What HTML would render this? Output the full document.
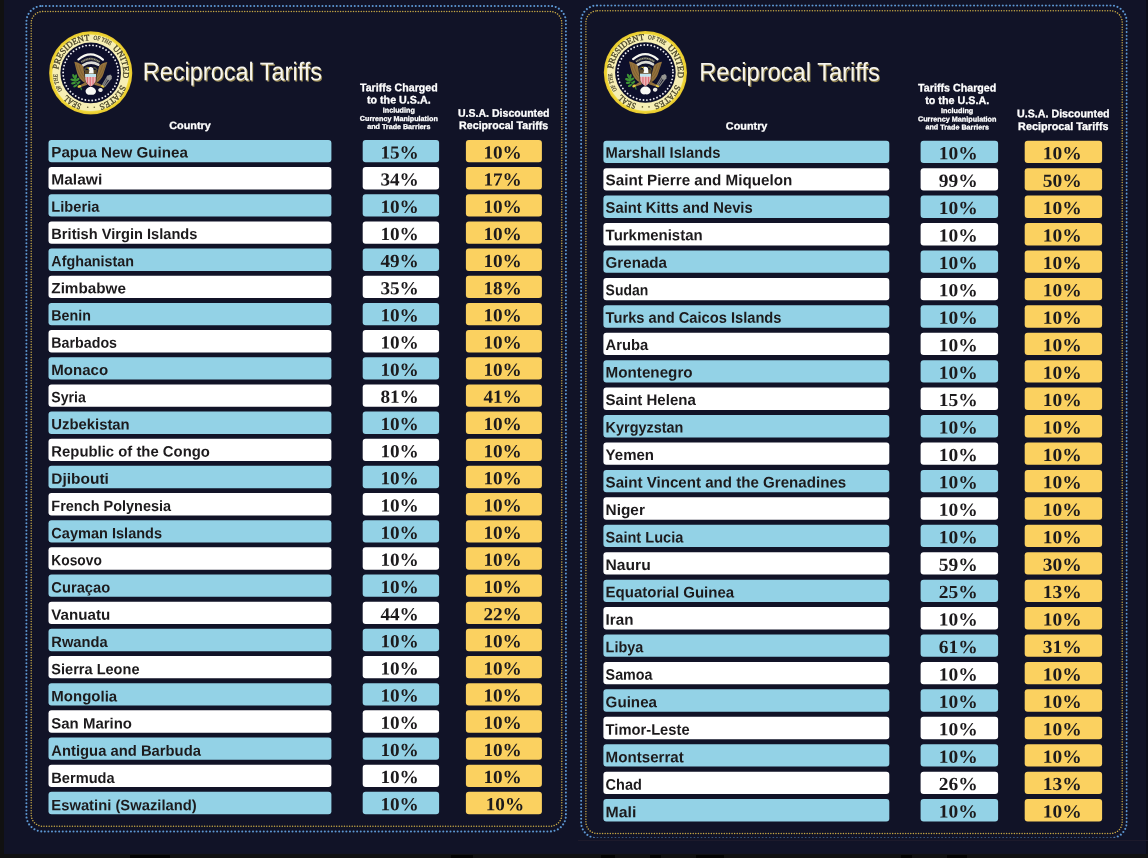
<!DOCTYPE html>
<html lang="en"><head><meta charset="utf-8"><title>Reciprocal Tariffs</title>
<style>
html,body{margin:0;padding:0;}
body{width:1148px;height:858px;background:#111327;position:relative;overflow:hidden;}
.abs{position:absolute;}
.r{position:absolute;border-radius:3px;}
.t{position:absolute;white-space:nowrap;line-height:1;transform-origin:0 50%;display:block;}
.sb{font-family:"Liberation Sans",sans-serif;font-weight:bold;}
.sr{font-family:"Liberation Sans",sans-serif;font-weight:normal;}
.nb{font-family:"Liberation Serif",serif;font-weight:bold;}
</style></head><body><div id="wrap" style="position:absolute;left:0;top:0;width:1148px;height:858px;filter:blur(0.45px)">

<div class="abs" style="left:0;top:0;width:3.7px;height:858px;background:#111111"></div>
<div class="abs" style="left:1145.7px;top:0;width:2.3px;height:858px;background:#0c0d19"></div>
<div class="abs" style="left:0;top:853.9px;width:1148px;height:4.1px;background:#111112"></div>
<div class="abs" style="left:130px;top:854.5px;width:40px;height:3.5px;background:#030303"></div>
<div class="abs" style="left:451px;top:854.5px;width:22px;height:3.5px;background:#030303"></div>
<div class="abs" style="left:601px;top:854.5px;width:14px;height:3.5px;background:#030303"></div>
<div class="abs" style="left:650px;top:854.5px;width:11px;height:3.5px;background:#030303"></div>
<div class="abs" style="left:696px;top:854.5px;width:28px;height:3.5px;background:#030303"></div>
<div class="abs" style="left:901px;top:854.5px;width:11px;height:3.5px;background:#030303"></div>
<div class="abs" style="left:947px;top:854.5px;width:20px;height:3.5px;background:#030303"></div>
<div class="abs" style="left:578px;top:840.2px;width:570px;height:0.7px;background:#1d1a2b"></div>
<svg class="abs" style="left:0;top:0" width="1148" height="858" viewBox="0 0 1148 858"><rect x="48.5" y="139.95" width="282.9" height="22.35" rx="3" fill="#93d2e6"/><rect x="362.7" y="139.95" width="76.4" height="22.35" rx="3" fill="#93d2e6"/><rect x="465.9" y="139.95" width="76.0" height="22.35" rx="3" fill="#fbd160"/><rect x="48.5" y="167.11" width="282.9" height="22.35" rx="3" fill="#ffffff"/><rect x="362.7" y="167.11" width="76.4" height="22.35" rx="3" fill="#ffffff"/><rect x="465.9" y="167.11" width="76.0" height="22.35" rx="3" fill="#fbd160"/><rect x="48.5" y="194.27" width="282.9" height="22.35" rx="3" fill="#93d2e6"/><rect x="362.7" y="194.27" width="76.4" height="22.35" rx="3" fill="#93d2e6"/><rect x="465.9" y="194.27" width="76.0" height="22.35" rx="3" fill="#fbd160"/><rect x="48.5" y="221.43" width="282.9" height="22.35" rx="3" fill="#ffffff"/><rect x="362.7" y="221.43" width="76.4" height="22.35" rx="3" fill="#ffffff"/><rect x="465.9" y="221.43" width="76.0" height="22.35" rx="3" fill="#fbd160"/><rect x="48.5" y="248.59" width="282.9" height="22.35" rx="3" fill="#93d2e6"/><rect x="362.7" y="248.59" width="76.4" height="22.35" rx="3" fill="#93d2e6"/><rect x="465.9" y="248.59" width="76.0" height="22.35" rx="3" fill="#fbd160"/><rect x="48.5" y="275.75" width="282.9" height="22.35" rx="3" fill="#ffffff"/><rect x="362.7" y="275.75" width="76.4" height="22.35" rx="3" fill="#ffffff"/><rect x="465.9" y="275.75" width="76.0" height="22.35" rx="3" fill="#fbd160"/><rect x="48.5" y="302.91" width="282.9" height="22.35" rx="3" fill="#93d2e6"/><rect x="362.7" y="302.91" width="76.4" height="22.35" rx="3" fill="#93d2e6"/><rect x="465.9" y="302.91" width="76.0" height="22.35" rx="3" fill="#fbd160"/><rect x="48.5" y="330.07" width="282.9" height="22.35" rx="3" fill="#ffffff"/><rect x="362.7" y="330.07" width="76.4" height="22.35" rx="3" fill="#ffffff"/><rect x="465.9" y="330.07" width="76.0" height="22.35" rx="3" fill="#fbd160"/><rect x="48.5" y="357.23" width="282.9" height="22.35" rx="3" fill="#93d2e6"/><rect x="362.7" y="357.23" width="76.4" height="22.35" rx="3" fill="#93d2e6"/><rect x="465.9" y="357.23" width="76.0" height="22.35" rx="3" fill="#fbd160"/><rect x="48.5" y="384.39" width="282.9" height="22.35" rx="3" fill="#ffffff"/><rect x="362.7" y="384.39" width="76.4" height="22.35" rx="3" fill="#ffffff"/><rect x="465.9" y="384.39" width="76.0" height="22.35" rx="3" fill="#fbd160"/><rect x="48.5" y="411.55" width="282.9" height="22.35" rx="3" fill="#93d2e6"/><rect x="362.7" y="411.55" width="76.4" height="22.35" rx="3" fill="#93d2e6"/><rect x="465.9" y="411.55" width="76.0" height="22.35" rx="3" fill="#fbd160"/><rect x="48.5" y="438.71" width="282.9" height="22.35" rx="3" fill="#ffffff"/><rect x="362.7" y="438.71" width="76.4" height="22.35" rx="3" fill="#ffffff"/><rect x="465.9" y="438.71" width="76.0" height="22.35" rx="3" fill="#fbd160"/><rect x="48.5" y="465.87" width="282.9" height="22.35" rx="3" fill="#93d2e6"/><rect x="362.7" y="465.87" width="76.4" height="22.35" rx="3" fill="#93d2e6"/><rect x="465.9" y="465.87" width="76.0" height="22.35" rx="3" fill="#fbd160"/><rect x="48.5" y="493.03" width="282.9" height="22.35" rx="3" fill="#ffffff"/><rect x="362.7" y="493.03" width="76.4" height="22.35" rx="3" fill="#ffffff"/><rect x="465.9" y="493.03" width="76.0" height="22.35" rx="3" fill="#fbd160"/><rect x="48.5" y="520.19" width="282.9" height="22.35" rx="3" fill="#93d2e6"/><rect x="362.7" y="520.19" width="76.4" height="22.35" rx="3" fill="#93d2e6"/><rect x="465.9" y="520.19" width="76.0" height="22.35" rx="3" fill="#fbd160"/><rect x="48.5" y="547.35" width="282.9" height="22.35" rx="3" fill="#ffffff"/><rect x="362.7" y="547.35" width="76.4" height="22.35" rx="3" fill="#ffffff"/><rect x="465.9" y="547.35" width="76.0" height="22.35" rx="3" fill="#fbd160"/><rect x="48.5" y="574.51" width="282.9" height="22.35" rx="3" fill="#93d2e6"/><rect x="362.7" y="574.51" width="76.4" height="22.35" rx="3" fill="#93d2e6"/><rect x="465.9" y="574.51" width="76.0" height="22.35" rx="3" fill="#fbd160"/><rect x="48.5" y="601.67" width="282.9" height="22.35" rx="3" fill="#ffffff"/><rect x="362.7" y="601.67" width="76.4" height="22.35" rx="3" fill="#ffffff"/><rect x="465.9" y="601.67" width="76.0" height="22.35" rx="3" fill="#fbd160"/><rect x="48.5" y="628.83" width="282.9" height="22.35" rx="3" fill="#93d2e6"/><rect x="362.7" y="628.83" width="76.4" height="22.35" rx="3" fill="#93d2e6"/><rect x="465.9" y="628.83" width="76.0" height="22.35" rx="3" fill="#fbd160"/><rect x="48.5" y="655.99" width="282.9" height="22.35" rx="3" fill="#ffffff"/><rect x="362.7" y="655.99" width="76.4" height="22.35" rx="3" fill="#ffffff"/><rect x="465.9" y="655.99" width="76.0" height="22.35" rx="3" fill="#fbd160"/><rect x="48.5" y="683.15" width="282.9" height="22.35" rx="3" fill="#93d2e6"/><rect x="362.7" y="683.15" width="76.4" height="22.35" rx="3" fill="#93d2e6"/><rect x="465.9" y="683.15" width="76.0" height="22.35" rx="3" fill="#fbd160"/><rect x="48.5" y="710.31" width="282.9" height="22.35" rx="3" fill="#ffffff"/><rect x="362.7" y="710.31" width="76.4" height="22.35" rx="3" fill="#ffffff"/><rect x="465.9" y="710.31" width="76.0" height="22.35" rx="3" fill="#fbd160"/><rect x="48.5" y="737.47" width="282.9" height="22.35" rx="3" fill="#93d2e6"/><rect x="362.7" y="737.47" width="76.4" height="22.35" rx="3" fill="#93d2e6"/><rect x="465.9" y="737.47" width="76.0" height="22.35" rx="3" fill="#fbd160"/><rect x="48.5" y="764.63" width="282.9" height="22.35" rx="3" fill="#ffffff"/><rect x="362.7" y="764.63" width="76.4" height="22.35" rx="3" fill="#ffffff"/><rect x="465.9" y="764.63" width="76.0" height="22.35" rx="3" fill="#fbd160"/><rect x="48.5" y="791.79" width="282.9" height="22.35" rx="3" fill="#93d2e6"/><rect x="362.7" y="791.79" width="76.4" height="22.35" rx="3" fill="#93d2e6"/><rect x="465.9" y="791.79" width="76.0" height="22.35" rx="3" fill="#fbd160"/><rect x="603.4" y="140.75" width="285.9" height="22.35" rx="3" fill="#93d2e6"/><rect x="920.6" y="140.75" width="77.5" height="22.35" rx="3" fill="#93d2e6"/><rect x="1024.7" y="140.75" width="77.4" height="22.35" rx="3" fill="#fbd160"/><rect x="603.4" y="168.18" width="285.9" height="22.35" rx="3" fill="#ffffff"/><rect x="920.6" y="168.18" width="77.5" height="22.35" rx="3" fill="#ffffff"/><rect x="1024.7" y="168.18" width="77.4" height="22.35" rx="3" fill="#fbd160"/><rect x="603.4" y="195.61" width="285.9" height="22.35" rx="3" fill="#93d2e6"/><rect x="920.6" y="195.61" width="77.5" height="22.35" rx="3" fill="#93d2e6"/><rect x="1024.7" y="195.61" width="77.4" height="22.35" rx="3" fill="#fbd160"/><rect x="603.4" y="223.04" width="285.9" height="22.35" rx="3" fill="#ffffff"/><rect x="920.6" y="223.04" width="77.5" height="22.35" rx="3" fill="#ffffff"/><rect x="1024.7" y="223.04" width="77.4" height="22.35" rx="3" fill="#fbd160"/><rect x="603.4" y="250.47" width="285.9" height="22.35" rx="3" fill="#93d2e6"/><rect x="920.6" y="250.47" width="77.5" height="22.35" rx="3" fill="#93d2e6"/><rect x="1024.7" y="250.47" width="77.4" height="22.35" rx="3" fill="#fbd160"/><rect x="603.4" y="277.90" width="285.9" height="22.35" rx="3" fill="#ffffff"/><rect x="920.6" y="277.90" width="77.5" height="22.35" rx="3" fill="#ffffff"/><rect x="1024.7" y="277.90" width="77.4" height="22.35" rx="3" fill="#fbd160"/><rect x="603.4" y="305.33" width="285.9" height="22.35" rx="3" fill="#93d2e6"/><rect x="920.6" y="305.33" width="77.5" height="22.35" rx="3" fill="#93d2e6"/><rect x="1024.7" y="305.33" width="77.4" height="22.35" rx="3" fill="#fbd160"/><rect x="603.4" y="332.76" width="285.9" height="22.35" rx="3" fill="#ffffff"/><rect x="920.6" y="332.76" width="77.5" height="22.35" rx="3" fill="#ffffff"/><rect x="1024.7" y="332.76" width="77.4" height="22.35" rx="3" fill="#fbd160"/><rect x="603.4" y="360.19" width="285.9" height="22.35" rx="3" fill="#93d2e6"/><rect x="920.6" y="360.19" width="77.5" height="22.35" rx="3" fill="#93d2e6"/><rect x="1024.7" y="360.19" width="77.4" height="22.35" rx="3" fill="#fbd160"/><rect x="603.4" y="387.62" width="285.9" height="22.35" rx="3" fill="#ffffff"/><rect x="920.6" y="387.62" width="77.5" height="22.35" rx="3" fill="#ffffff"/><rect x="1024.7" y="387.62" width="77.4" height="22.35" rx="3" fill="#fbd160"/><rect x="603.4" y="415.05" width="285.9" height="22.35" rx="3" fill="#93d2e6"/><rect x="920.6" y="415.05" width="77.5" height="22.35" rx="3" fill="#93d2e6"/><rect x="1024.7" y="415.05" width="77.4" height="22.35" rx="3" fill="#fbd160"/><rect x="603.4" y="442.48" width="285.9" height="22.35" rx="3" fill="#ffffff"/><rect x="920.6" y="442.48" width="77.5" height="22.35" rx="3" fill="#ffffff"/><rect x="1024.7" y="442.48" width="77.4" height="22.35" rx="3" fill="#fbd160"/><rect x="603.4" y="469.91" width="285.9" height="22.35" rx="3" fill="#93d2e6"/><rect x="920.6" y="469.91" width="77.5" height="22.35" rx="3" fill="#93d2e6"/><rect x="1024.7" y="469.91" width="77.4" height="22.35" rx="3" fill="#fbd160"/><rect x="603.4" y="497.34" width="285.9" height="22.35" rx="3" fill="#ffffff"/><rect x="920.6" y="497.34" width="77.5" height="22.35" rx="3" fill="#ffffff"/><rect x="1024.7" y="497.34" width="77.4" height="22.35" rx="3" fill="#fbd160"/><rect x="603.4" y="524.77" width="285.9" height="22.35" rx="3" fill="#93d2e6"/><rect x="920.6" y="524.77" width="77.5" height="22.35" rx="3" fill="#93d2e6"/><rect x="1024.7" y="524.77" width="77.4" height="22.35" rx="3" fill="#fbd160"/><rect x="603.4" y="552.20" width="285.9" height="22.35" rx="3" fill="#ffffff"/><rect x="920.6" y="552.20" width="77.5" height="22.35" rx="3" fill="#ffffff"/><rect x="1024.7" y="552.20" width="77.4" height="22.35" rx="3" fill="#fbd160"/><rect x="603.4" y="579.63" width="285.9" height="22.35" rx="3" fill="#93d2e6"/><rect x="920.6" y="579.63" width="77.5" height="22.35" rx="3" fill="#93d2e6"/><rect x="1024.7" y="579.63" width="77.4" height="22.35" rx="3" fill="#fbd160"/><rect x="603.4" y="607.06" width="285.9" height="22.35" rx="3" fill="#ffffff"/><rect x="920.6" y="607.06" width="77.5" height="22.35" rx="3" fill="#ffffff"/><rect x="1024.7" y="607.06" width="77.4" height="22.35" rx="3" fill="#fbd160"/><rect x="603.4" y="634.49" width="285.9" height="22.35" rx="3" fill="#93d2e6"/><rect x="920.6" y="634.49" width="77.5" height="22.35" rx="3" fill="#93d2e6"/><rect x="1024.7" y="634.49" width="77.4" height="22.35" rx="3" fill="#fbd160"/><rect x="603.4" y="661.92" width="285.9" height="22.35" rx="3" fill="#ffffff"/><rect x="920.6" y="661.92" width="77.5" height="22.35" rx="3" fill="#ffffff"/><rect x="1024.7" y="661.92" width="77.4" height="22.35" rx="3" fill="#fbd160"/><rect x="603.4" y="689.35" width="285.9" height="22.35" rx="3" fill="#93d2e6"/><rect x="920.6" y="689.35" width="77.5" height="22.35" rx="3" fill="#93d2e6"/><rect x="1024.7" y="689.35" width="77.4" height="22.35" rx="3" fill="#fbd160"/><rect x="603.4" y="716.78" width="285.9" height="22.35" rx="3" fill="#ffffff"/><rect x="920.6" y="716.78" width="77.5" height="22.35" rx="3" fill="#ffffff"/><rect x="1024.7" y="716.78" width="77.4" height="22.35" rx="3" fill="#fbd160"/><rect x="603.4" y="744.21" width="285.9" height="22.35" rx="3" fill="#93d2e6"/><rect x="920.6" y="744.21" width="77.5" height="22.35" rx="3" fill="#93d2e6"/><rect x="1024.7" y="744.21" width="77.4" height="22.35" rx="3" fill="#fbd160"/><rect x="603.4" y="771.64" width="285.9" height="22.35" rx="3" fill="#ffffff"/><rect x="920.6" y="771.64" width="77.5" height="22.35" rx="3" fill="#ffffff"/><rect x="1024.7" y="771.64" width="77.4" height="22.35" rx="3" fill="#fbd160"/><rect x="603.4" y="799.07" width="285.9" height="22.35" rx="3" fill="#93d2e6"/><rect x="920.6" y="799.07" width="77.5" height="22.35" rx="3" fill="#93d2e6"/><rect x="1024.7" y="799.07" width="77.4" height="22.35" rx="3" fill="#fbd160"/></svg>
<svg class="abs" style="left:0;top:0" width="1148" height="858" viewBox="0 0 1148 858">
<rect x="26.4" y="5.9" width="539.5" height="825.5" rx="16" fill="none" stroke="#5d97d2" stroke-width="2.05" stroke-linecap="round" stroke-dasharray="0.01 3.58"/>
<rect x="31.2" y="11.5" width="530.5999999999999" height="814.7" rx="11.5" fill="none" stroke="#c4a645" stroke-width="1.5" stroke-linecap="round" stroke-dasharray="0.01 2.58"/>
</svg>
<span class="t sb" style="left:51px;top:144px;font-size:15px;transform:translate(0.30px,0.35px) scaleX(1.0115) skewY(0.03deg);color:#1c1a1c;">Papua New Guinea</span>
<span class="t nb" style="left:380px;top:143px;font-size:18.4px;transform:translate(0.40px,0.41px) scaleX(1.0440) skewY(0.03deg);color:#1c1a1c;">15%</span>
<span class="t nb" style="left:483px;top:143px;font-size:18.4px;transform:translate(0.40px,0.41px) scaleX(1.0440) skewY(0.03deg);color:#1c1a1c;">10%</span>
<span class="t sb" style="left:51px;top:171px;font-size:15px;transform:translate(0.30px,0.55px) scaleX(1.0348) skewY(0.03deg);color:#1c1a1c;">Malawi</span>
<span class="t nb" style="left:380px;top:170px;font-size:18.4px;transform:translate(0.40px,0.57px) scaleX(1.0440) skewY(0.03deg);color:#1c1a1c;">34%</span>
<span class="t nb" style="left:483px;top:170px;font-size:18.4px;transform:translate(0.40px,0.57px) scaleX(1.0440) skewY(0.03deg);color:#1c1a1c;">17%</span>
<span class="t sb" style="left:51px;top:198px;font-size:15px;transform:translate(0.30px,0.75px) scaleX(0.9779) skewY(0.03deg);color:#1c1a1c;">Liberia</span>
<span class="t nb" style="left:380px;top:197px;font-size:18.4px;transform:translate(0.40px,0.73px) scaleX(1.0440) skewY(0.03deg);color:#1c1a1c;">10%</span>
<span class="t nb" style="left:483px;top:197px;font-size:18.4px;transform:translate(0.40px,0.73px) scaleX(1.0440) skewY(0.03deg);color:#1c1a1c;">10%</span>
<span class="t sb" style="left:51px;top:225px;font-size:15px;transform:translate(0.30px,0.95px) scaleX(0.9755) skewY(0.03deg);color:#1c1a1c;">British Virgin Islands</span>
<span class="t nb" style="left:380px;top:224px;font-size:18.4px;transform:translate(0.40px,0.89px) scaleX(1.0440) skewY(0.03deg);color:#1c1a1c;">10%</span>
<span class="t nb" style="left:483px;top:224px;font-size:18.4px;transform:translate(0.40px,0.89px) scaleX(1.0440) skewY(0.03deg);color:#1c1a1c;">10%</span>
<span class="t sb" style="left:51px;top:253px;font-size:15px;transform:translate(0.30px,0.15px) scaleX(0.9542) skewY(0.03deg);color:#1c1a1c;">Afghanistan</span>
<span class="t nb" style="left:380px;top:252px;font-size:18.4px;transform:translate(0.40px,0.05px) scaleX(1.0440) skewY(0.03deg);color:#1c1a1c;">49%</span>
<span class="t nb" style="left:483px;top:252px;font-size:18.4px;transform:translate(0.40px,0.05px) scaleX(1.0440) skewY(0.03deg);color:#1c1a1c;">10%</span>
<span class="t sb" style="left:51px;top:280px;font-size:15px;transform:translate(0.30px,0.35px) scaleX(1.0183) skewY(0.03deg);color:#1c1a1c;">Zimbabwe</span>
<span class="t nb" style="left:380px;top:279px;font-size:18.4px;transform:translate(0.40px,0.21px) scaleX(1.0440) skewY(0.03deg);color:#1c1a1c;">35%</span>
<span class="t nb" style="left:483px;top:279px;font-size:18.4px;transform:translate(0.40px,0.21px) scaleX(1.0440) skewY(0.03deg);color:#1c1a1c;">18%</span>
<span class="t sb" style="left:51px;top:307px;font-size:15px;transform:translate(0.30px,0.55px) scaleX(0.9503) skewY(0.03deg);color:#1c1a1c;">Benin</span>
<span class="t nb" style="left:380px;top:306px;font-size:18.4px;transform:translate(0.40px,0.37px) scaleX(1.0440) skewY(0.03deg);color:#1c1a1c;">10%</span>
<span class="t nb" style="left:483px;top:306px;font-size:18.4px;transform:translate(0.40px,0.37px) scaleX(1.0440) skewY(0.03deg);color:#1c1a1c;">10%</span>
<span class="t sb" style="left:51px;top:334px;font-size:15px;transform:translate(0.30px,0.75px) scaleX(0.9496) skewY(0.03deg);color:#1c1a1c;">Barbados</span>
<span class="t nb" style="left:380px;top:333px;font-size:18.4px;transform:translate(0.40px,0.53px) scaleX(1.0440) skewY(0.03deg);color:#1c1a1c;">10%</span>
<span class="t nb" style="left:483px;top:333px;font-size:18.4px;transform:translate(0.40px,0.53px) scaleX(1.0440) skewY(0.03deg);color:#1c1a1c;">10%</span>
<span class="t sb" style="left:51px;top:361px;font-size:15px;transform:translate(0.30px,0.95px) scaleX(1.0040) skewY(0.03deg);color:#1c1a1c;">Monaco</span>
<span class="t nb" style="left:380px;top:360px;font-size:18.4px;transform:translate(0.40px,0.69px) scaleX(1.0440) skewY(0.03deg);color:#1c1a1c;">10%</span>
<span class="t nb" style="left:483px;top:360px;font-size:18.4px;transform:translate(0.40px,0.69px) scaleX(1.0440) skewY(0.03deg);color:#1c1a1c;">10%</span>
<span class="t sb" style="left:51px;top:389px;font-size:15px;transform:translate(0.30px,0.15px) scaleX(0.9427) skewY(0.03deg);color:#1c1a1c;">Syria</span>
<span class="t nb" style="left:380px;top:387px;font-size:18.4px;transform:translate(0.40px,0.85px) scaleX(1.0440) skewY(0.03deg);color:#1c1a1c;">81%</span>
<span class="t nb" style="left:483px;top:387px;font-size:18.4px;transform:translate(0.40px,0.85px) scaleX(1.0440) skewY(0.03deg);color:#1c1a1c;">41%</span>
<span class="t sb" style="left:51px;top:416px;font-size:15px;transform:translate(0.30px,0.35px) scaleX(0.9899) skewY(0.03deg);color:#1c1a1c;">Uzbekistan</span>
<span class="t nb" style="left:380px;top:415px;font-size:18.4px;transform:translate(0.40px,0.01px) scaleX(1.0440) skewY(0.03deg);color:#1c1a1c;">10%</span>
<span class="t nb" style="left:483px;top:415px;font-size:18.4px;transform:translate(0.40px,0.01px) scaleX(1.0440) skewY(0.03deg);color:#1c1a1c;">10%</span>
<span class="t sb" style="left:51px;top:443px;font-size:15px;transform:translate(0.30px,0.55px) scaleX(0.9913) skewY(0.03deg);color:#1c1a1c;">Republic of the Congo</span>
<span class="t nb" style="left:380px;top:442px;font-size:18.4px;transform:translate(0.40px,0.17px) scaleX(1.0440) skewY(0.03deg);color:#1c1a1c;">10%</span>
<span class="t nb" style="left:483px;top:442px;font-size:18.4px;transform:translate(0.40px,0.17px) scaleX(1.0440) skewY(0.03deg);color:#1c1a1c;">10%</span>
<span class="t sb" style="left:51px;top:470px;font-size:15px;transform:translate(0.30px,0.75px) scaleX(1.0317) skewY(0.03deg);color:#1c1a1c;">Djibouti</span>
<span class="t nb" style="left:380px;top:469px;font-size:18.4px;transform:translate(0.40px,0.33px) scaleX(1.0440) skewY(0.03deg);color:#1c1a1c;">10%</span>
<span class="t nb" style="left:483px;top:469px;font-size:18.4px;transform:translate(0.40px,0.33px) scaleX(1.0440) skewY(0.03deg);color:#1c1a1c;">10%</span>
<span class="t sb" style="left:51px;top:497px;font-size:15px;transform:translate(0.30px,0.95px) scaleX(0.9644) skewY(0.03deg);color:#1c1a1c;">French Polynesia</span>
<span class="t nb" style="left:380px;top:496px;font-size:18.4px;transform:translate(0.40px,0.49px) scaleX(1.0440) skewY(0.03deg);color:#1c1a1c;">10%</span>
<span class="t nb" style="left:483px;top:496px;font-size:18.4px;transform:translate(0.40px,0.49px) scaleX(1.0440) skewY(0.03deg);color:#1c1a1c;">10%</span>
<span class="t sb" style="left:51px;top:525px;font-size:15px;transform:translate(0.30px,0.15px) scaleX(0.9701) skewY(0.03deg);color:#1c1a1c;">Cayman Islands</span>
<span class="t nb" style="left:380px;top:523px;font-size:18.4px;transform:translate(0.40px,0.65px) scaleX(1.0440) skewY(0.03deg);color:#1c1a1c;">10%</span>
<span class="t nb" style="left:483px;top:523px;font-size:18.4px;transform:translate(0.40px,0.65px) scaleX(1.0440) skewY(0.03deg);color:#1c1a1c;">10%</span>
<span class="t sb" style="left:51px;top:552px;font-size:15px;transform:translate(0.30px,0.35px) scaleX(0.9197) skewY(0.03deg);color:#1c1a1c;">Kosovo</span>
<span class="t nb" style="left:380px;top:550px;font-size:18.4px;transform:translate(0.40px,0.81px) scaleX(1.0440) skewY(0.03deg);color:#1c1a1c;">10%</span>
<span class="t nb" style="left:483px;top:550px;font-size:18.4px;transform:translate(0.40px,0.81px) scaleX(1.0440) skewY(0.03deg);color:#1c1a1c;">10%</span>
<span class="t sb" style="left:51px;top:579px;font-size:15px;transform:translate(0.30px,0.55px) scaleX(0.9812) skewY(0.03deg);color:#1c1a1c;">Curaçao</span>
<span class="t nb" style="left:380px;top:577px;font-size:18.4px;transform:translate(0.40px,0.97px) scaleX(1.0440) skewY(0.03deg);color:#1c1a1c;">10%</span>
<span class="t nb" style="left:483px;top:577px;font-size:18.4px;transform:translate(0.40px,0.97px) scaleX(1.0440) skewY(0.03deg);color:#1c1a1c;">10%</span>
<span class="t sb" style="left:51px;top:606px;font-size:15px;transform:translate(0.30px,0.75px) scaleX(1.0093) skewY(0.03deg);color:#1c1a1c;">Vanuatu</span>
<span class="t nb" style="left:380px;top:605px;font-size:18.4px;transform:translate(0.40px,0.13px) scaleX(1.0440) skewY(0.03deg);color:#1c1a1c;">44%</span>
<span class="t nb" style="left:483px;top:605px;font-size:18.4px;transform:translate(0.40px,0.13px) scaleX(1.0440) skewY(0.03deg);color:#1c1a1c;">22%</span>
<span class="t sb" style="left:51px;top:633px;font-size:15px;transform:translate(0.30px,0.95px) scaleX(0.9806) skewY(0.03deg);color:#1c1a1c;">Rwanda</span>
<span class="t nb" style="left:380px;top:632px;font-size:18.4px;transform:translate(0.40px,0.29px) scaleX(1.0440) skewY(0.03deg);color:#1c1a1c;">10%</span>
<span class="t nb" style="left:483px;top:632px;font-size:18.4px;transform:translate(0.40px,0.29px) scaleX(1.0440) skewY(0.03deg);color:#1c1a1c;">10%</span>
<span class="t sb" style="left:51px;top:661px;font-size:15px;transform:translate(0.30px,0.15px) scaleX(0.9706) skewY(0.03deg);color:#1c1a1c;">Sierra Leone</span>
<span class="t nb" style="left:380px;top:659px;font-size:18.4px;transform:translate(0.40px,0.45px) scaleX(1.0440) skewY(0.03deg);color:#1c1a1c;">10%</span>
<span class="t nb" style="left:483px;top:659px;font-size:18.4px;transform:translate(0.40px,0.45px) scaleX(1.0440) skewY(0.03deg);color:#1c1a1c;">10%</span>
<span class="t sb" style="left:51px;top:688px;font-size:15px;transform:translate(0.30px,0.35px) scaleX(1.0011) skewY(0.03deg);color:#1c1a1c;">Mongolia</span>
<span class="t nb" style="left:380px;top:686px;font-size:18.4px;transform:translate(0.40px,0.61px) scaleX(1.0440) skewY(0.03deg);color:#1c1a1c;">10%</span>
<span class="t nb" style="left:483px;top:686px;font-size:18.4px;transform:translate(0.40px,0.61px) scaleX(1.0440) skewY(0.03deg);color:#1c1a1c;">10%</span>
<span class="t sb" style="left:51px;top:715px;font-size:15px;transform:translate(0.30px,0.55px) scaleX(0.9980) skewY(0.03deg);color:#1c1a1c;">San Marino</span>
<span class="t nb" style="left:380px;top:713px;font-size:18.4px;transform:translate(0.40px,0.77px) scaleX(1.0440) skewY(0.03deg);color:#1c1a1c;">10%</span>
<span class="t nb" style="left:483px;top:713px;font-size:18.4px;transform:translate(0.40px,0.77px) scaleX(1.0440) skewY(0.03deg);color:#1c1a1c;">10%</span>
<span class="t sb" style="left:51px;top:742px;font-size:15px;transform:translate(0.30px,0.75px) scaleX(0.9863) skewY(0.03deg);color:#1c1a1c;">Antigua and Barbuda</span>
<span class="t nb" style="left:380px;top:740px;font-size:18.4px;transform:translate(0.40px,0.93px) scaleX(1.0440) skewY(0.03deg);color:#1c1a1c;">10%</span>
<span class="t nb" style="left:483px;top:740px;font-size:18.4px;transform:translate(0.40px,0.93px) scaleX(1.0440) skewY(0.03deg);color:#1c1a1c;">10%</span>
<span class="t sb" style="left:51px;top:769px;font-size:15px;transform:translate(0.30px,0.95px) scaleX(0.9749) skewY(0.03deg);color:#1c1a1c;">Bermuda</span>
<span class="t nb" style="left:380px;top:768px;font-size:18.4px;transform:translate(0.40px,0.09px) scaleX(1.0440) skewY(0.03deg);color:#1c1a1c;">10%</span>
<span class="t nb" style="left:483px;top:768px;font-size:18.4px;transform:translate(0.40px,0.09px) scaleX(1.0440) skewY(0.03deg);color:#1c1a1c;">10%</span>
<span class="t sb" style="left:51px;top:797px;font-size:15px;transform:translate(0.30px,0.15px) scaleX(0.9856) skewY(0.03deg);color:#1c1a1c;">Eswatini (Swaziland)</span>
<span class="t nb" style="left:380px;top:795px;font-size:18.4px;transform:translate(0.40px,0.25px) scaleX(1.0440) skewY(0.03deg);color:#1c1a1c;">10%</span>
<span class="t nb" style="left:485px;top:795px;font-size:18.4px;transform:translate(0.70px,0.25px) scaleX(1.0440) skewY(0.03deg);color:#1c1a1c;">10%</span>
<svg class="abs" style="left:0;top:0" width="1148" height="858" viewBox="0 0 1148 858">
<rect clip-path="inset(0 0 1.4px 0)" x="581.1" y="5.4" width="545.6" height="832.8000000000001" rx="16" fill="none" stroke="#5d97d2" stroke-width="2.05" stroke-linecap="round" stroke-dasharray="0.01 3.58"/>
<rect x="585.9" y="10.8" width="536.3000000000001" height="822.7" rx="11.5" fill="none" stroke="#c4a645" stroke-width="1.5" stroke-linecap="round" stroke-dasharray="0.01 2.58"/>
</svg>
<span class="t sb" style="left:605px;top:144px;font-size:15.3px;transform:translate(0.60px,0.80px) scaleX(0.9645) skewY(0.03deg);color:#1c1a1c;">Marshall Islands</span>
<span class="t nb" style="left:938px;top:144px;font-size:18.4px;transform:translate(0.70px,0.21px) scaleX(1.0576) skewY(0.03deg);color:#1c1a1c;">10%</span>
<span class="t nb" style="left:1042px;top:144px;font-size:18.4px;transform:translate(0.75px,0.21px) scaleX(1.0576) skewY(0.03deg);color:#1c1a1c;">10%</span>
<span class="t sb" style="left:605px;top:172px;font-size:15.3px;transform:translate(0.60px,0.27px) scaleX(0.9939) skewY(0.03deg);color:#1c1a1c;">Saint Pierre and Miquelon</span>
<span class="t nb" style="left:938px;top:171px;font-size:18.4px;transform:translate(0.70px,0.64px) scaleX(1.0576) skewY(0.03deg);color:#1c1a1c;">99%</span>
<span class="t nb" style="left:1042px;top:171px;font-size:18.4px;transform:translate(0.75px,0.64px) scaleX(1.0576) skewY(0.03deg);color:#1c1a1c;">50%</span>
<span class="t sb" style="left:605px;top:199px;font-size:15.3px;transform:translate(0.60px,0.74px) scaleX(0.9668) skewY(0.03deg);color:#1c1a1c;">Saint Kitts and Nevis</span>
<span class="t nb" style="left:938px;top:199px;font-size:18.4px;transform:translate(0.70px,0.07px) scaleX(1.0576) skewY(0.03deg);color:#1c1a1c;">10%</span>
<span class="t nb" style="left:1042px;top:199px;font-size:18.4px;transform:translate(0.75px,0.07px) scaleX(1.0576) skewY(0.03deg);color:#1c1a1c;">10%</span>
<span class="t sb" style="left:605px;top:227px;font-size:15.3px;transform:translate(0.60px,0.21px) scaleX(0.9781) skewY(0.03deg);color:#1c1a1c;">Turkmenistan</span>
<span class="t nb" style="left:938px;top:226px;font-size:18.4px;transform:translate(0.70px,0.50px) scaleX(1.0576) skewY(0.03deg);color:#1c1a1c;">10%</span>
<span class="t nb" style="left:1042px;top:226px;font-size:18.4px;transform:translate(0.75px,0.50px) scaleX(1.0576) skewY(0.03deg);color:#1c1a1c;">10%</span>
<span class="t sb" style="left:605px;top:254px;font-size:15.3px;transform:translate(0.60px,0.69px) scaleX(0.9893) skewY(0.03deg);color:#1c1a1c;">Grenada</span>
<span class="t nb" style="left:938px;top:253px;font-size:18.4px;transform:translate(0.70px,0.93px) scaleX(1.0576) skewY(0.03deg);color:#1c1a1c;">10%</span>
<span class="t nb" style="left:1042px;top:253px;font-size:18.4px;transform:translate(0.75px,0.93px) scaleX(1.0576) skewY(0.03deg);color:#1c1a1c;">10%</span>
<span class="t sb" style="left:605px;top:282px;font-size:15.3px;transform:translate(0.60px,0.16px) scaleX(0.9112) skewY(0.03deg);color:#1c1a1c;">Sudan</span>
<span class="t nb" style="left:938px;top:281px;font-size:18.4px;transform:translate(0.70px,0.36px) scaleX(1.0576) skewY(0.03deg);color:#1c1a1c;">10%</span>
<span class="t nb" style="left:1042px;top:281px;font-size:18.4px;transform:translate(0.75px,0.36px) scaleX(1.0576) skewY(0.03deg);color:#1c1a1c;">10%</span>
<span class="t sb" style="left:605px;top:309px;font-size:15.3px;transform:translate(0.60px,0.63px) scaleX(0.9594) skewY(0.03deg);color:#1c1a1c;">Turks and Caicos Islands</span>
<span class="t nb" style="left:938px;top:308px;font-size:18.4px;transform:translate(0.70px,0.79px) scaleX(1.0576) skewY(0.03deg);color:#1c1a1c;">10%</span>
<span class="t nb" style="left:1042px;top:308px;font-size:18.4px;transform:translate(0.75px,0.79px) scaleX(1.0576) skewY(0.03deg);color:#1c1a1c;">10%</span>
<span class="t sb" style="left:605px;top:337px;font-size:15.3px;transform:translate(0.60px,0.10px) scaleX(0.9637) skewY(0.03deg);color:#1c1a1c;">Aruba</span>
<span class="t nb" style="left:938px;top:336px;font-size:18.4px;transform:translate(0.70px,0.22px) scaleX(1.0576) skewY(0.03deg);color:#1c1a1c;">10%</span>
<span class="t nb" style="left:1042px;top:336px;font-size:18.4px;transform:translate(0.75px,0.22px) scaleX(1.0576) skewY(0.03deg);color:#1c1a1c;">10%</span>
<span class="t sb" style="left:605px;top:364px;font-size:15.3px;transform:translate(0.60px,0.57px) scaleX(0.9939) skewY(0.03deg);color:#1c1a1c;">Montenegro</span>
<span class="t nb" style="left:938px;top:363px;font-size:18.4px;transform:translate(0.70px,0.65px) scaleX(1.0576) skewY(0.03deg);color:#1c1a1c;">10%</span>
<span class="t nb" style="left:1042px;top:363px;font-size:18.4px;transform:translate(0.75px,0.65px) scaleX(1.0576) skewY(0.03deg);color:#1c1a1c;">10%</span>
<span class="t sb" style="left:605px;top:392px;font-size:15.3px;transform:translate(0.60px,0.05px) scaleX(0.9824) skewY(0.03deg);color:#1c1a1c;">Saint Helena</span>
<span class="t nb" style="left:938px;top:391px;font-size:18.4px;transform:translate(0.70px,0.08px) scaleX(1.0576) skewY(0.03deg);color:#1c1a1c;">15%</span>
<span class="t nb" style="left:1042px;top:391px;font-size:18.4px;transform:translate(0.75px,0.08px) scaleX(1.0576) skewY(0.03deg);color:#1c1a1c;">10%</span>
<span class="t sb" style="left:605px;top:419px;font-size:15.3px;transform:translate(0.60px,0.52px) scaleX(0.9422) skewY(0.03deg);color:#1c1a1c;">Kyrgyzstan</span>
<span class="t nb" style="left:938px;top:418px;font-size:18.4px;transform:translate(0.70px,0.51px) scaleX(1.0576) skewY(0.03deg);color:#1c1a1c;">10%</span>
<span class="t nb" style="left:1042px;top:418px;font-size:18.4px;transform:translate(0.75px,0.51px) scaleX(1.0576) skewY(0.03deg);color:#1c1a1c;">10%</span>
<span class="t sb" style="left:605px;top:446px;font-size:15.3px;transform:translate(0.60px,0.99px) scaleX(0.9812) skewY(0.03deg);color:#1c1a1c;">Yemen</span>
<span class="t nb" style="left:938px;top:445px;font-size:18.4px;transform:translate(0.70px,0.94px) scaleX(1.0576) skewY(0.03deg);color:#1c1a1c;">10%</span>
<span class="t nb" style="left:1042px;top:445px;font-size:18.4px;transform:translate(0.75px,0.94px) scaleX(1.0576) skewY(0.03deg);color:#1c1a1c;">10%</span>
<span class="t sb" style="left:605px;top:474px;font-size:15.3px;transform:translate(0.60px,0.46px) scaleX(0.9873) skewY(0.03deg);color:#1c1a1c;">Saint Vincent and the Grenadines</span>
<span class="t nb" style="left:938px;top:473px;font-size:18.4px;transform:translate(0.70px,0.37px) scaleX(1.0576) skewY(0.03deg);color:#1c1a1c;">10%</span>
<span class="t nb" style="left:1042px;top:473px;font-size:18.4px;transform:translate(0.75px,0.37px) scaleX(1.0576) skewY(0.03deg);color:#1c1a1c;">10%</span>
<span class="t sb" style="left:605px;top:501px;font-size:15.3px;transform:translate(0.60px,0.93px) scaleX(1.0049) skewY(0.03deg);color:#1c1a1c;">Niger</span>
<span class="t nb" style="left:938px;top:500px;font-size:18.4px;transform:translate(0.70px,0.80px) scaleX(1.0576) skewY(0.03deg);color:#1c1a1c;">10%</span>
<span class="t nb" style="left:1042px;top:500px;font-size:18.4px;transform:translate(0.75px,0.80px) scaleX(1.0576) skewY(0.03deg);color:#1c1a1c;">10%</span>
<span class="t sb" style="left:605px;top:529px;font-size:15.3px;transform:translate(0.60px,0.41px) scaleX(0.9521) skewY(0.03deg);color:#1c1a1c;">Saint Lucia</span>
<span class="t nb" style="left:938px;top:528px;font-size:18.4px;transform:translate(0.70px,0.23px) scaleX(1.0576) skewY(0.03deg);color:#1c1a1c;">10%</span>
<span class="t nb" style="left:1042px;top:528px;font-size:18.4px;transform:translate(0.75px,0.23px) scaleX(1.0576) skewY(0.03deg);color:#1c1a1c;">10%</span>
<span class="t sb" style="left:605px;top:556px;font-size:15.3px;transform:translate(0.60px,0.88px) scaleX(1.0203) skewY(0.03deg);color:#1c1a1c;">Nauru</span>
<span class="t nb" style="left:938px;top:555px;font-size:18.4px;transform:translate(0.70px,0.66px) scaleX(1.0576) skewY(0.03deg);color:#1c1a1c;">59%</span>
<span class="t nb" style="left:1042px;top:555px;font-size:18.4px;transform:translate(0.75px,0.66px) scaleX(1.0576) skewY(0.03deg);color:#1c1a1c;">30%</span>
<span class="t sb" style="left:605px;top:584px;font-size:15.3px;transform:translate(0.60px,0.35px) scaleX(0.9824) skewY(0.03deg);color:#1c1a1c;">Equatorial Guinea</span>
<span class="t nb" style="left:938px;top:583px;font-size:18.4px;transform:translate(0.70px,0.09px) scaleX(1.0576) skewY(0.03deg);color:#1c1a1c;">25%</span>
<span class="t nb" style="left:1042px;top:583px;font-size:18.4px;transform:translate(0.75px,0.09px) scaleX(1.0576) skewY(0.03deg);color:#1c1a1c;">13%</span>
<span class="t sb" style="left:605px;top:611px;font-size:15.3px;transform:translate(0.60px,0.82px) scaleX(0.9906) skewY(0.03deg);color:#1c1a1c;">Iran</span>
<span class="t nb" style="left:938px;top:610px;font-size:18.4px;transform:translate(0.70px,0.52px) scaleX(1.0576) skewY(0.03deg);color:#1c1a1c;">10%</span>
<span class="t nb" style="left:1042px;top:610px;font-size:18.4px;transform:translate(0.75px,0.52px) scaleX(1.0576) skewY(0.03deg);color:#1c1a1c;">10%</span>
<span class="t sb" style="left:605px;top:639px;font-size:15.3px;transform:translate(0.60px,0.29px) scaleX(0.9411) skewY(0.03deg);color:#1c1a1c;">Libya</span>
<span class="t nb" style="left:938px;top:637px;font-size:18.4px;transform:translate(0.70px,0.95px) scaleX(1.0576) skewY(0.03deg);color:#1c1a1c;">61%</span>
<span class="t nb" style="left:1042px;top:637px;font-size:18.4px;transform:translate(0.75px,0.95px) scaleX(1.0576) skewY(0.03deg);color:#1c1a1c;">31%</span>
<span class="t sb" style="left:605px;top:666px;font-size:15.3px;transform:translate(0.60px,0.77px) scaleX(0.9348) skewY(0.03deg);color:#1c1a1c;">Samoa</span>
<span class="t nb" style="left:938px;top:665px;font-size:18.4px;transform:translate(0.70px,0.38px) scaleX(1.0576) skewY(0.03deg);color:#1c1a1c;">10%</span>
<span class="t nb" style="left:1042px;top:665px;font-size:18.4px;transform:translate(0.75px,0.38px) scaleX(1.0576) skewY(0.03deg);color:#1c1a1c;">10%</span>
<span class="t sb" style="left:605px;top:694px;font-size:15.3px;transform:translate(0.60px,0.24px) scaleX(0.9911) skewY(0.03deg);color:#1c1a1c;">Guinea</span>
<span class="t nb" style="left:938px;top:692px;font-size:18.4px;transform:translate(0.70px,0.81px) scaleX(1.0576) skewY(0.03deg);color:#1c1a1c;">10%</span>
<span class="t nb" style="left:1042px;top:692px;font-size:18.4px;transform:translate(0.75px,0.81px) scaleX(1.0576) skewY(0.03deg);color:#1c1a1c;">10%</span>
<span class="t sb" style="left:605px;top:721px;font-size:15.3px;transform:translate(0.60px,0.71px) scaleX(0.9624) skewY(0.03deg);color:#1c1a1c;">Timor-Leste</span>
<span class="t nb" style="left:938px;top:720px;font-size:18.4px;transform:translate(0.70px,0.24px) scaleX(1.0576) skewY(0.03deg);color:#1c1a1c;">10%</span>
<span class="t nb" style="left:1042px;top:720px;font-size:18.4px;transform:translate(0.75px,0.24px) scaleX(1.0576) skewY(0.03deg);color:#1c1a1c;">10%</span>
<span class="t sb" style="left:605px;top:749px;font-size:15.3px;transform:translate(0.60px,0.18px) scaleX(0.9893) skewY(0.03deg);color:#1c1a1c;">Montserrat</span>
<span class="t nb" style="left:938px;top:747px;font-size:18.4px;transform:translate(0.70px,0.67px) scaleX(1.0576) skewY(0.03deg);color:#1c1a1c;">10%</span>
<span class="t nb" style="left:1042px;top:747px;font-size:18.4px;transform:translate(0.75px,0.67px) scaleX(1.0576) skewY(0.03deg);color:#1c1a1c;">10%</span>
<span class="t sb" style="left:605px;top:776px;font-size:15.3px;transform:translate(0.60px,0.65px) scaleX(0.9490) skewY(0.03deg);color:#1c1a1c;">Chad</span>
<span class="t nb" style="left:938px;top:775px;font-size:18.4px;transform:translate(0.70px,0.10px) scaleX(1.0576) skewY(0.03deg);color:#1c1a1c;">26%</span>
<span class="t nb" style="left:1042px;top:775px;font-size:18.4px;transform:translate(0.75px,0.10px) scaleX(1.0576) skewY(0.03deg);color:#1c1a1c;">13%</span>
<span class="t sb" style="left:605px;top:804px;font-size:15.3px;transform:translate(0.60px,0.13px) scaleX(1.0353) skewY(0.03deg);color:#1c1a1c;">Mali</span>
<span class="t nb" style="left:938px;top:802px;font-size:18.4px;transform:translate(0.70px,0.53px) scaleX(1.0576) skewY(0.03deg);color:#1c1a1c;">10%</span>
<span class="t nb" style="left:1042px;top:802px;font-size:18.4px;transform:translate(0.75px,0.53px) scaleX(1.0576) skewY(0.03deg);color:#1c1a1c;">10%</span>
<span class="t sr" style="left:142px;top:59px;font-size:25.6px;transform:translate(0.80px,0.13px) scaleX(0.9173) skewY(0.03deg);color:#f8f6ee;text-shadow:1.2px 1.3px 0 #94854f;">Reciprocal Tariffs</span>
<span class="t sb" style="left:169px;top:119px;font-size:10.5px;transform:translate(0.20px,0.91px) scaleX(1.0335) skewY(0.03deg);color:#fff;-webkit-text-stroke:0.3px #fff;">Country</span>
<span class="t sb" style="left:359px;top:82px;font-size:11px;transform:translate(0.95px,0.29px) scaleX(0.9654) skewY(0.03deg);color:#fff;-webkit-text-stroke:0.3px #fff;">Tariffs Charged</span>
<span class="t sb" style="left:366px;top:94px;font-size:11px;transform:translate(0.94px,0.59px) scaleX(0.9744) skewY(0.03deg);color:#fff;-webkit-text-stroke:0.3px #fff;">to the U.S.A.</span>
<span class="t sb" style="left:382px;top:106px;font-size:7px;transform:translate(0.81px,0.57px) scaleX(1.0280) skewY(0.03deg);color:#fff;-webkit-text-stroke:0.3px #fff;">Including</span>
<span class="t sb" style="left:359px;top:114px;font-size:7px;transform:translate(0.80px,0.87px) scaleX(1.0284) skewY(0.03deg);color:#fff;-webkit-text-stroke:0.3px #fff;">Currency Manipulation</span>
<span class="t sb" style="left:367px;top:122px;font-size:7px;transform:translate(0.21px,0.87px) scaleX(1.0211) skewY(0.03deg);color:#fff;-webkit-text-stroke:0.3px #fff;">and Trade Barriers</span>
<span class="t sb" style="left:457px;top:107px;font-size:11px;transform:translate(0.95px,0.79px) scaleX(0.9597) skewY(0.03deg);color:#fff;-webkit-text-stroke:0.3px #fff;">U.S.A. Discounted</span>
<span class="t sb" style="left:459px;top:120px;font-size:11px;transform:translate(0.09px,0.09px) scaleX(0.9685) skewY(0.03deg);color:#fff;-webkit-text-stroke:0.3px #fff;">Reciprocal Tariffs</span>
<span class="t sr" style="left:699px;top:59px;font-size:25.6px;transform:translate(0.20px,0.53px) scaleX(0.9245) skewY(0.03deg);color:#f8f6ee;text-shadow:1.2px 1.3px 0 #94854f;">Reciprocal Tariffs</span>
<span class="t sb" style="left:725px;top:120px;font-size:10.5px;transform:translate(0.80px,0.41px) scaleX(1.0335) skewY(0.03deg);color:#fff;-webkit-text-stroke:0.3px #fff;">Country</span>
<span class="t sb" style="left:918px;top:82px;font-size:11px;transform:translate(0.10px,0.39px) scaleX(0.9716) skewY(0.03deg);color:#fff;-webkit-text-stroke:0.3px #fff;">Tariffs Charged</span>
<span class="t sb" style="left:925px;top:94px;font-size:11px;transform:translate(0.14px,0.99px) scaleX(0.9806) skewY(0.03deg);color:#fff;-webkit-text-stroke:0.3px #fff;">to the U.S.A.</span>
<span class="t sb" style="left:941px;top:107px;font-size:7px;transform:translate(0.11px,0.07px) scaleX(1.0346) skewY(0.03deg);color:#fff;-webkit-text-stroke:0.3px #fff;">Including</span>
<span class="t sb" style="left:917px;top:115px;font-size:7px;transform:translate(0.95px,0.37px) scaleX(1.0350) skewY(0.03deg);color:#fff;-webkit-text-stroke:0.3px #fff;">Currency Manipulation</span>
<span class="t sb" style="left:925px;top:123px;font-size:7px;transform:translate(0.41px,0.37px) scaleX(1.0276) skewY(0.03deg);color:#fff;-webkit-text-stroke:0.3px #fff;">and Trade Barriers</span>
<span class="t sb" style="left:1016px;top:108px;font-size:11px;transform:translate(0.95px,0.29px) scaleX(0.9723) skewY(0.03deg);color:#fff;-webkit-text-stroke:0.3px #fff;">U.S.A. Discounted</span>
<span class="t sb" style="left:1018px;top:120px;font-size:11px;transform:translate(0.11px,0.89px) scaleX(0.9813) skewY(0.03deg);color:#fff;-webkit-text-stroke:0.3px #fff;">Reciprocal Tariffs</span>
<svg class="abs" style="left:0;top:0" width="1148" height="858" viewBox="0 0 1148 858"><defs>
<path id="ringa" d="M 0 32.5 A 32.5 32.5 0 1 1 0 -32.5 A 32.5 32.5 0 1 1 0 32.5"/><path id="rsa" d="M 0 33.5 A 33.5 33.5 0 1 1 0 -33.5 A 33.5 33.5 0 1 1 0 33.5"/>
<radialGradient id="gra" r="0.5"><stop offset="0.9" stop-color="#f6ea96"/><stop offset="0.935" stop-color="#f0d838"/><stop offset="0.985" stop-color="#e8c92e"/><stop offset="1" stop-color="#cdae2a"/></radialGradient>
</defs><g transform="translate(90.7 72.9)">
<circle r="41.6" fill="url(#gra)"/>
<circle r="38.2" fill="#f6eeb4"/>
<circle r="30.3" fill="#0d0f2b"/>
<circle r="27.6" fill="none" stroke="#f1f1f6" stroke-width="1.85" stroke-linecap="round" stroke-dasharray="0.01 3.468"/>
<text font-family="Liberation Serif,serif" font-size="8.8" fill="#4a4528" stroke="#4a4528" stroke-width="0.32"><textPath href="#ringa" startOffset="9.08" textLength="18.15" lengthAdjust="spacingAndGlyphs">SEAL</textPath></text><text font-family="Liberation Serif,serif" font-size="6.0" fill="#4a4528" stroke="#4a4528" stroke-width="0.22"><textPath href="#rsa" startOffset="33.91" textLength="17.54" lengthAdjust="spacingAndGlyphs">OF THE</textPath></text><text font-family="Liberation Serif,serif" font-size="8.8" fill="#4a4528" stroke="#4a4528" stroke-width="0.32"><textPath href="#ringa" startOffset="54.45" textLength="46.51" lengthAdjust="spacingAndGlyphs">PRESIDENT</textPath></text><text font-family="Liberation Serif,serif" font-size="6.0" fill="#4a4528" stroke="#4a4528" stroke-width="0.22"><textPath href="#rsa" startOffset="107.58" textLength="18.13" lengthAdjust="spacingAndGlyphs">OF THE</textPath></text><text font-family="Liberation Serif,serif" font-size="8.8" fill="#4a4528" stroke="#4a4528" stroke-width="0.32"><textPath href="#ringa" startOffset="125.36" textLength="32.90" lengthAdjust="spacingAndGlyphs">UNITED</textPath></text><text font-family="Liberation Serif,serif" font-size="8.8" fill="#4a4528" stroke="#4a4528" stroke-width="0.32"><textPath href="#ringa" startOffset="165.06" textLength="30.63" lengthAdjust="spacingAndGlyphs">STATES</textPath></text>
<circle cx="-3" cy="34.4" r="0.8" fill="#6b6538"/><circle cx="3.6" cy="34.4" r="0.8" fill="#6b6538"/>
<!-- glory arc -->
<path d="M -12.3 -13.4 Q 0 -23.6 12.2 -13.2" fill="none" stroke="#f7f7f1" stroke-width="2.2" stroke-linecap="round"/>
<path d="M -9.4 -10.8 Q 0 -17.6 9 -10.8" fill="none" stroke="#55544a" stroke-width="2.4"/>
<path d="M -9.4 -10.8 Q 0 -17.6 9 -10.8" fill="none" stroke="#b5b4a6" stroke-width="1.1" stroke-dasharray="0.8 0.9"/>
<path d="M -7.8 -7.6 Q 0 -12.6 7.6 -8.2" fill="none" stroke="#dcdcd6" stroke-width="2.7" stroke-linecap="round"/>
<!-- wings -->
<path d="M -16.4 -11.1 C -13 -10.6 -10 -9 -7.4 -6.6 L -6.2 2.2 L -5.2 10 C -9 8.4 -12 4.6 -13.2 1 C -14.4 -2.6 -15.2 -6.6 -16.4 -11.1 Z" fill="#94723d"/>
<path d="M 16.6 -10.8 C 13.2 -10.4 10.6 -9 8.4 -6.6 L 6.2 2.2 L 5.2 10 C 9 8.4 11.6 4.6 12.8 1 C 14 -2.6 15.2 -6.4 16.6 -10.8 Z" fill="#94723d"/>
<path d="M -14.6 -8.6 C -13.2 -3 -11 2.4 -7 6.8 M -11.6 -8 C -10.6 -3 -9.2 0.6 -6.4 4" fill="none" stroke="#735628" stroke-width="0.6"/>
<path d="M 14.8 -8.4 C 13.2 -3 11 2.4 7 6.8 M 11.8 -7.8 C 10.6 -3 9.2 0.6 6.4 4" fill="none" stroke="#735628" stroke-width="0.6"/>
<!-- body / legs -->
<path d="M -6 -3 L 6 -3 L 6 9 L 0 13.6 L -6 9 Z" fill="#5b4a2a"/>
<path d="M -5 9 L -10.6 12.4 L -9.6 14 L -3.4 11.8 Z" fill="#94723d"/>
<path d="M 5 9 L 11.2 12.2 L 10.4 13.9 L 3.4 11.8 Z" fill="#94723d"/>
<!-- scroll -->
<path d="M -6.6 -2.2 Q -5.4 -5.4 -2.6 -5.6 M 6.4 -2.6 Q 5 -5.6 2.6 -5.4" fill="none" stroke="#4c4a34" stroke-width="1.5"/>
<!-- head -->
<path d="M -1.4 -5.6 C 0.6 -6.4 3 -5.4 2.8 -2.8 L 3 0.6 L -2 0.6 L -1.2 -2.4 L -2.2 -3.6 Z" fill="#fbfbf7"/>
<path d="M -1.6 -5.9 L -4.1 -4.9 L -1.8 -4 Z" fill="#e2c53c"/>
<!-- shield -->
<path d="M -5.4 1.2 L 5.3 1.2 L 5.2 6 C 5 9.6 2.6 12 0 13.5 C -2.6 12 -5.2 9.6 -5.3 6 Z" fill="#f7eeee"/>
<clipPath id="sha"><path d="M -5.4 1.2 L 5.3 1.2 L 5.2 6 C 5 9.6 2.6 12 0 13.5 C -2.6 12 -5.2 9.6 -5.3 6 Z"/></clipPath>
<g clip-path="url(#sha)"><path d="M -4.7 4 V 15 M -3.15 4 V 15 M -1.6 4 V 15 M -0.05 4 V 15 M 1.5 4 V 15 M 3.05 4 V 15 M 4.6 4 V 15" stroke="#d8505a" stroke-width="0.85" fill="none"/>
<rect x="-6" y="1" width="12" height="3" fill="#bfe3ee"/></g>
<!-- tail -->
<path d="M 0 14 C -2 13.8 -5.3 15.6 -5.1 18.6 C -4.9 21.2 -2.2 22.4 0 21.8 C 2.4 22.4 5.1 21.2 5.3 18.6 C 5.5 15.6 2 13.8 0 14 Z" fill="#f8f8f4"/>
<!-- olive branch -->
<g fill="#3f9636"><ellipse cx="-17" cy="3.4" rx="1.2" ry="2.4" transform="rotate(-25 -17 3.4)"/><ellipse cx="-14.8" cy="3.6" rx="1.1" ry="2.2" transform="rotate(10 -14.8 3.6)"/><ellipse cx="-18" cy="7" rx="2.4" ry="1.2" transform="rotate(15 -18 7)"/><ellipse cx="-13" cy="6.6" rx="2.2" ry="1.2" transform="rotate(-35 -13 6.6)"/><ellipse cx="-17.2" cy="10.2" rx="2.4" ry="1.2" transform="rotate(-10 -17.2 10.2)"/><ellipse cx="-12" cy="9.8" rx="2.2" ry="1.1" transform="rotate(-40 -12 9.8)"/><ellipse cx="-15.4" cy="13" rx="2.3" ry="1.1" transform="rotate(-30 -15.4 13)"/><ellipse cx="-15.6" cy="6.4" rx="1.3" ry="2.8"/><ellipse cx="-9.6" cy="15.6" rx="0.6" ry="1.7" transform="rotate(-15 -9.6 15.6)"/></g>
<path d="M -16.4 2.6 C -15.6 7.6 -13.8 11.2 -11 13.4" stroke="#3a8a30" stroke-width="0.8" fill="none"/>
<!-- talons -->
<ellipse cx="-11.3" cy="13.5" rx="1.9" ry="1.3" fill="#e4c93e" transform="rotate(-15 -11.3 13.5)"/>
<ellipse cx="12.1" cy="13.4" rx="1.9" ry="1.3" fill="#e4c93e" transform="rotate(15 12.1 13.4)"/>
<!-- arrows -->
<path d="M 12.6 13.2 L 19 3.2 M 14 13.8 L 20.4 5.4 M 11.8 12 L 17.2 3" stroke="#858582" stroke-width="1.2" fill="none"/>
<path d="M 16.2 3 L 19.6 1.6 L 21.2 3.4 L 21 6.2 L 18.4 7.6 L 16.4 6 Z" fill="#969692"/>
<path d="M 7.6 16.4 C 8.6 15 10.8 14.8 11.8 16 C 12.4 17.4 11.6 19 10 19.2 C 8.4 19.4 7.2 18 7.6 16.4 Z" fill="#ecebe6"/>
</g></svg>

<svg class="abs" style="left:0;top:0" width="1148" height="858" viewBox="0 0 1148 858"><defs>
<path id="ringb" d="M 0 32.5 A 32.5 32.5 0 1 1 0 -32.5 A 32.5 32.5 0 1 1 0 32.5"/><path id="rsb" d="M 0 33.5 A 33.5 33.5 0 1 1 0 -33.5 A 33.5 33.5 0 1 1 0 33.5"/>
<radialGradient id="grb" r="0.5"><stop offset="0.9" stop-color="#f6ea96"/><stop offset="0.935" stop-color="#f0d838"/><stop offset="0.985" stop-color="#e8c92e"/><stop offset="1" stop-color="#cdae2a"/></radialGradient>
</defs><g transform="translate(645.4 72.5)">
<circle r="41.6" fill="url(#grb)"/>
<circle r="38.2" fill="#f6eeb4"/>
<circle r="30.3" fill="#0d0f2b"/>
<circle r="27.6" fill="none" stroke="#f1f1f6" stroke-width="1.85" stroke-linecap="round" stroke-dasharray="0.01 3.468"/>
<text font-family="Liberation Serif,serif" font-size="8.8" fill="#4a4528" stroke="#4a4528" stroke-width="0.32"><textPath href="#ringb" startOffset="9.08" textLength="18.15" lengthAdjust="spacingAndGlyphs">SEAL</textPath></text><text font-family="Liberation Serif,serif" font-size="6.0" fill="#4a4528" stroke="#4a4528" stroke-width="0.22"><textPath href="#rsb" startOffset="33.91" textLength="17.54" lengthAdjust="spacingAndGlyphs">OF THE</textPath></text><text font-family="Liberation Serif,serif" font-size="8.8" fill="#4a4528" stroke="#4a4528" stroke-width="0.32"><textPath href="#ringb" startOffset="54.45" textLength="46.51" lengthAdjust="spacingAndGlyphs">PRESIDENT</textPath></text><text font-family="Liberation Serif,serif" font-size="6.0" fill="#4a4528" stroke="#4a4528" stroke-width="0.22"><textPath href="#rsb" startOffset="107.58" textLength="18.13" lengthAdjust="spacingAndGlyphs">OF THE</textPath></text><text font-family="Liberation Serif,serif" font-size="8.8" fill="#4a4528" stroke="#4a4528" stroke-width="0.32"><textPath href="#ringb" startOffset="125.36" textLength="32.90" lengthAdjust="spacingAndGlyphs">UNITED</textPath></text><text font-family="Liberation Serif,serif" font-size="8.8" fill="#4a4528" stroke="#4a4528" stroke-width="0.32"><textPath href="#ringb" startOffset="165.06" textLength="30.63" lengthAdjust="spacingAndGlyphs">STATES</textPath></text>
<circle cx="-3" cy="34.4" r="0.8" fill="#6b6538"/><circle cx="3.6" cy="34.4" r="0.8" fill="#6b6538"/>
<!-- glory arc -->
<path d="M -12.3 -13.4 Q 0 -23.6 12.2 -13.2" fill="none" stroke="#f7f7f1" stroke-width="2.2" stroke-linecap="round"/>
<path d="M -9.4 -10.8 Q 0 -17.6 9 -10.8" fill="none" stroke="#55544a" stroke-width="2.4"/>
<path d="M -9.4 -10.8 Q 0 -17.6 9 -10.8" fill="none" stroke="#b5b4a6" stroke-width="1.1" stroke-dasharray="0.8 0.9"/>
<path d="M -7.8 -7.6 Q 0 -12.6 7.6 -8.2" fill="none" stroke="#dcdcd6" stroke-width="2.7" stroke-linecap="round"/>
<!-- wings -->
<path d="M -16.4 -11.1 C -13 -10.6 -10 -9 -7.4 -6.6 L -6.2 2.2 L -5.2 10 C -9 8.4 -12 4.6 -13.2 1 C -14.4 -2.6 -15.2 -6.6 -16.4 -11.1 Z" fill="#94723d"/>
<path d="M 16.6 -10.8 C 13.2 -10.4 10.6 -9 8.4 -6.6 L 6.2 2.2 L 5.2 10 C 9 8.4 11.6 4.6 12.8 1 C 14 -2.6 15.2 -6.4 16.6 -10.8 Z" fill="#94723d"/>
<path d="M -14.6 -8.6 C -13.2 -3 -11 2.4 -7 6.8 M -11.6 -8 C -10.6 -3 -9.2 0.6 -6.4 4" fill="none" stroke="#735628" stroke-width="0.6"/>
<path d="M 14.8 -8.4 C 13.2 -3 11 2.4 7 6.8 M 11.8 -7.8 C 10.6 -3 9.2 0.6 6.4 4" fill="none" stroke="#735628" stroke-width="0.6"/>
<!-- body / legs -->
<path d="M -6 -3 L 6 -3 L 6 9 L 0 13.6 L -6 9 Z" fill="#5b4a2a"/>
<path d="M -5 9 L -10.6 12.4 L -9.6 14 L -3.4 11.8 Z" fill="#94723d"/>
<path d="M 5 9 L 11.2 12.2 L 10.4 13.9 L 3.4 11.8 Z" fill="#94723d"/>
<!-- scroll -->
<path d="M -6.6 -2.2 Q -5.4 -5.4 -2.6 -5.6 M 6.4 -2.6 Q 5 -5.6 2.6 -5.4" fill="none" stroke="#4c4a34" stroke-width="1.5"/>
<!-- head -->
<path d="M -1.4 -5.6 C 0.6 -6.4 3 -5.4 2.8 -2.8 L 3 0.6 L -2 0.6 L -1.2 -2.4 L -2.2 -3.6 Z" fill="#fbfbf7"/>
<path d="M -1.6 -5.9 L -4.1 -4.9 L -1.8 -4 Z" fill="#e2c53c"/>
<!-- shield -->
<path d="M -5.4 1.2 L 5.3 1.2 L 5.2 6 C 5 9.6 2.6 12 0 13.5 C -2.6 12 -5.2 9.6 -5.3 6 Z" fill="#f7eeee"/>
<clipPath id="shb"><path d="M -5.4 1.2 L 5.3 1.2 L 5.2 6 C 5 9.6 2.6 12 0 13.5 C -2.6 12 -5.2 9.6 -5.3 6 Z"/></clipPath>
<g clip-path="url(#shb)"><path d="M -4.7 4 V 15 M -3.15 4 V 15 M -1.6 4 V 15 M -0.05 4 V 15 M 1.5 4 V 15 M 3.05 4 V 15 M 4.6 4 V 15" stroke="#d8505a" stroke-width="0.85" fill="none"/>
<rect x="-6" y="1" width="12" height="3" fill="#bfe3ee"/></g>
<!-- tail -->
<path d="M 0 14 C -2 13.8 -5.3 15.6 -5.1 18.6 C -4.9 21.2 -2.2 22.4 0 21.8 C 2.4 22.4 5.1 21.2 5.3 18.6 C 5.5 15.6 2 13.8 0 14 Z" fill="#f8f8f4"/>
<!-- olive branch -->
<g fill="#3f9636"><ellipse cx="-17" cy="3.4" rx="1.2" ry="2.4" transform="rotate(-25 -17 3.4)"/><ellipse cx="-14.8" cy="3.6" rx="1.1" ry="2.2" transform="rotate(10 -14.8 3.6)"/><ellipse cx="-18" cy="7" rx="2.4" ry="1.2" transform="rotate(15 -18 7)"/><ellipse cx="-13" cy="6.6" rx="2.2" ry="1.2" transform="rotate(-35 -13 6.6)"/><ellipse cx="-17.2" cy="10.2" rx="2.4" ry="1.2" transform="rotate(-10 -17.2 10.2)"/><ellipse cx="-12" cy="9.8" rx="2.2" ry="1.1" transform="rotate(-40 -12 9.8)"/><ellipse cx="-15.4" cy="13" rx="2.3" ry="1.1" transform="rotate(-30 -15.4 13)"/><ellipse cx="-15.6" cy="6.4" rx="1.3" ry="2.8"/><ellipse cx="-9.6" cy="15.6" rx="0.6" ry="1.7" transform="rotate(-15 -9.6 15.6)"/></g>
<path d="M -16.4 2.6 C -15.6 7.6 -13.8 11.2 -11 13.4" stroke="#3a8a30" stroke-width="0.8" fill="none"/>
<!-- talons -->
<ellipse cx="-11.3" cy="13.5" rx="1.9" ry="1.3" fill="#e4c93e" transform="rotate(-15 -11.3 13.5)"/>
<ellipse cx="12.1" cy="13.4" rx="1.9" ry="1.3" fill="#e4c93e" transform="rotate(15 12.1 13.4)"/>
<!-- arrows -->
<path d="M 12.6 13.2 L 19 3.2 M 14 13.8 L 20.4 5.4 M 11.8 12 L 17.2 3" stroke="#858582" stroke-width="1.2" fill="none"/>
<path d="M 16.2 3 L 19.6 1.6 L 21.2 3.4 L 21 6.2 L 18.4 7.6 L 16.4 6 Z" fill="#969692"/>
<path d="M 7.6 16.4 C 8.6 15 10.8 14.8 11.8 16 C 12.4 17.4 11.6 19 10 19.2 C 8.4 19.4 7.2 18 7.6 16.4 Z" fill="#ecebe6"/>
</g></svg>

</div></body></html>
